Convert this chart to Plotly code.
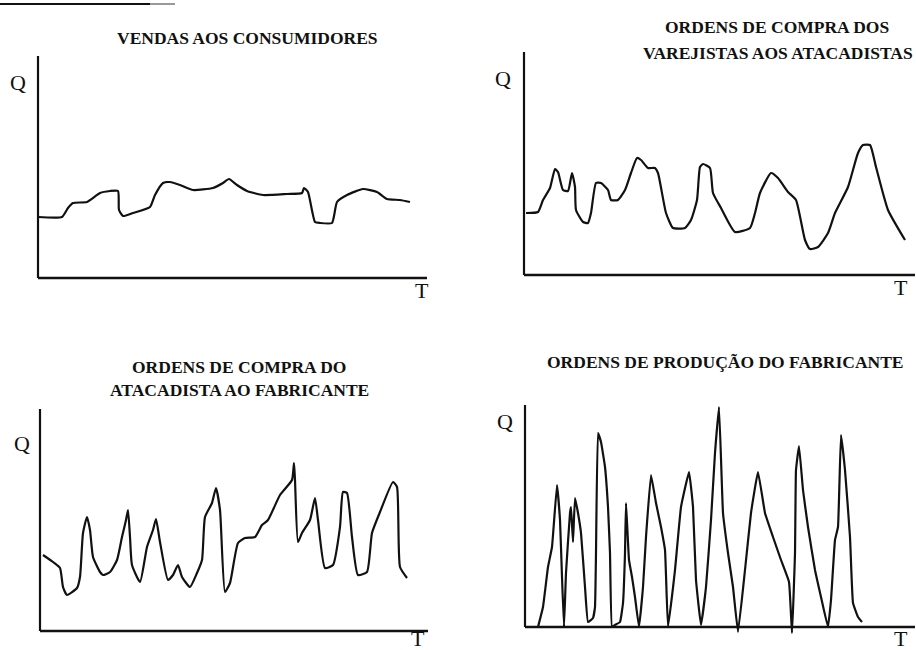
import plotly.graph_objects as go

W_PX, H_PX = 916, 650

# ---- data (T = time units, Q = quantity units) ----
t_vendas = [0, 24, 30, 35, 49, 62, 72, 80, 81, 85, 95, 112, 117, 125, 132, 142, 155, 175, 185, 191,
            199, 209, 225, 249, 264, 266, 270, 277, 282, 294, 299, 309, 325, 339, 349, 362, 372]
q_vendas = [61, 61, 70, 75, 76, 85, 87, 87, 68, 62, 65, 71, 83, 95, 96, 93, 88, 90, 95, 99,
            93, 87, 83, 84, 85, 90, 86, 56, 55, 55, 76, 83, 89, 86, 79, 78, 76]

t_varejo = [2, 14, 19, 26, 31, 34, 39, 44, 48, 51, 52, 59, 64, 67, 72, 77, 84, 87, 94, 101, 107,
            113, 117, 124, 131, 134, 142, 149, 161, 167, 173, 176, 179, 186, 189, 197, 211, 226,
            231, 236, 247, 254, 264, 272, 281, 286, 294, 304, 311, 324, 334, 339, 346, 352, 364, 381]
q_varejo = [62, 63, 75, 87, 106, 103, 85, 84, 102, 88, 65, 53, 52, 62, 92, 92, 85, 75, 75, 85, 102,
            117, 115, 107, 107, 102, 62, 47, 47, 55, 75, 108, 111, 107, 82, 67, 43, 47,
            62, 82, 102, 97, 83, 75, 35, 26, 28, 42, 62, 88, 122, 130, 130, 108, 65, 35]

t_atacado = [3, 13, 20, 23, 27, 37, 40, 43, 47, 50, 53, 60, 63, 70, 77, 82, 86, 88, 90, 92, 100,
             107, 113, 116, 120, 128, 133, 138, 142, 150, 157, 162, 165, 172, 176, 180, 185, 190,
             198, 205, 215, 222, 228, 240, 252, 254, 255, 258, 262, 270, 275, 278, 285, 293, 300,
             303, 307, 312, 318, 327, 332, 340, 353, 357, 360, 367]
q_atacado = [76, 69, 63, 44, 36, 43, 54, 98, 114, 101, 74, 59, 56, 59, 71, 94, 111, 121, 94, 66, 49,
             84, 101, 112, 89, 51, 56, 66, 54, 44, 58, 71, 114, 128, 143, 121, 39, 48,
             88, 93, 94, 106, 111, 136, 151, 168, 151, 89, 98, 111, 133, 111, 63, 66, 104,
             139, 138, 94, 56, 59, 98, 119, 149, 144, 64, 53]

t_fabrica = [13, 18, 23, 27, 32, 35, 37, 39, 41, 45, 46, 48, 50, 53, 56, 60, 63, 68, 70, 71, 73,
             76, 80, 83, 85, 87, 90, 95, 98, 100, 101, 104, 107, 110, 114, 118, 121, 126, 131,
             136, 140, 143, 150, 156, 164, 168, 171, 176, 181, 186, 190, 194, 198, 203, 208,
             213, 220, 226, 233, 240, 248, 256, 264, 267, 270, 271, 274, 278, 283, 290, 296,
             303, 306, 310, 313, 316, 320, 325, 328, 333, 337]
q_fabrica = [0, 20, 60, 80, 142, 107, 50, 0, 54, 114, 120, 85, 129, 114, 94, 40, 5, 9, 20, 74, 194,
             185, 160, 120, 74, 0, 2, 5, 24, 74, 124, 67, 50, 30, 0, 40, 90, 152, 124,
             100, 77, 0, 57, 120, 155, 120, 47, 2, 40, 107, 174, 220, 114, 74, 40,
             -5, 57, 114, 155, 114, 90, 67, 45, -6, 74, 157, 181, 137, 100, 57, 30,
             0, 27, 87, 100, 192, 157, 90, 24, 10, 5]

titles = [["VENDAS AOS CONSUMIDORES"],
          ["ORDENS DE COMPRA DOS", "VAREJISTAS AOS ATACADISTAS"],
          ["ORDENS DE COMPRA DO", "ATACADISTA AO FABRICANTE"],
          ["ORDENS DE PRODUÇÃO DO FABRICANTE"]]
axis_q = "Q"
axis_t = "T"

series = [(t_vendas, q_vendas), (t_varejo, q_varejo), (t_atacado, q_atacado), (t_fabrica, q_fabrica)]
smooth = [0.5, 0.5, 0.5, 0.3]

# ---- layout geometry (pixels) ----
panels = [
    dict(ox=38, oy=278, w=389, h=222, q=(18, 82), t=(422, 290), title_xy=[(247, 38)]),
    dict(ox=524, oy=275, w=391, h=223, q=(503, 78), t=(901, 287), title_xy=[(777, 27), (778, 53)]),
    dict(ox=40, oy=631, w=388, h=222, q=(22, 444), t=(418, 638), title_xy=[(239, 367), (239, 390)]),
    dict(ox=525, oy=627, w=390, h=222, q=(505, 421), t=(901, 638), title_xy=[(725, 362)]),
]

INK = "#111111"
fig = go.Figure()
shapes = []
annotations = []
layout_axes = {}

for i, (p, (tt, qq)) in enumerate(zip(panels, series), start=1):
    xa = "x" if i == 1 else f"x{i}"
    ya = "y" if i == 1 else f"y{i}"
    left, bottom = 12, 12
    right = min(p["w"] + 10, W_PX - p["ox"])
    top = p["h"] + 10
    xdom = [(p["ox"] - left) / W_PX, (p["ox"] + right) / W_PX]
    ydom = [(H_PX - p["oy"] - bottom) / H_PX, (H_PX - p["oy"] + top) / H_PX]
    layout_axes["xaxis" if i == 1 else f"xaxis{i}"] = dict(
        domain=xdom, range=[-left, right], visible=False, fixedrange=True, anchor=ya)
    layout_axes["yaxis" if i == 1 else f"yaxis{i}"] = dict(
        domain=ydom, range=[-bottom, top], visible=False, fixedrange=True, anchor=xa)

    fig.add_trace(go.Scatter(x=tt, y=qq, mode="lines", xaxis=xa, yaxis=ya,
                             line=dict(color=INK, width=2.2, shape="spline", smoothing=smooth[i - 1]),
                             hoverinfo="skip", showlegend=False))
    shapes.append(dict(type="line", xref=xa, yref=ya, x0=0, y0=0, x1=0, y1=p["h"],
                       line=dict(color=INK, width=2.2)))
    shapes.append(dict(type="line", xref=xa, yref=ya, x0=0, y0=0, x1=p["w"], y1=0,
                       line=dict(color=INK, width=2.6)))
    annotations.append(dict(text=axis_q, xref="paper", yref="paper", x=p["q"][0] / W_PX,
                            y=1 - p["q"][1] / H_PX, showarrow=False, xanchor="center",
                            yanchor="middle", font=dict(family="Liberation Serif", size=22, color=INK)))
    annotations.append(dict(text=axis_t, xref="paper", yref="paper", x=p["t"][0] / W_PX,
                            y=1 - p["t"][1] / H_PX, showarrow=False, xanchor="center",
                            yanchor="middle", font=dict(family="Liberation Serif", size=22, color=INK)))
    for line_text, (cx, cy) in zip(titles[i - 1], p["title_xy"]):
        annotations.append(dict(text=f"<b>{line_text}</b>", xref="paper", yref="paper",
                                x=cx / W_PX, y=1 - cy / H_PX, showarrow=False,
                                xanchor="center", yanchor="middle",
                                font=dict(family="Liberation Serif", size=17.5, color=INK)))

# scan edge line at the top-left
shapes.append(dict(type="line", xref="paper", yref="paper", x0=0, x1=150 / W_PX,
                   y0=1 - 4 / H_PX, y1=1 - 4 / H_PX, line=dict(color=INK, width=2)))
shapes.append(dict(type="line", xref="paper", yref="paper", x0=150 / W_PX, x1=175 / W_PX,
                   y0=1 - 4 / H_PX, y1=1 - 4 / H_PX, line=dict(color="#999999", width=2)))

fig.update_layout(width=W_PX, height=H_PX, margin=dict(l=0, r=0, t=0, b=0),
                  paper_bgcolor="white", plot_bgcolor="white",
                  shapes=shapes, annotations=annotations, **layout_axes)

fig.write_html("out.html", config={"displayModeBar": False},
               post_script="document.body.style.margin='0';document.body.style.overflow='hidden';")
